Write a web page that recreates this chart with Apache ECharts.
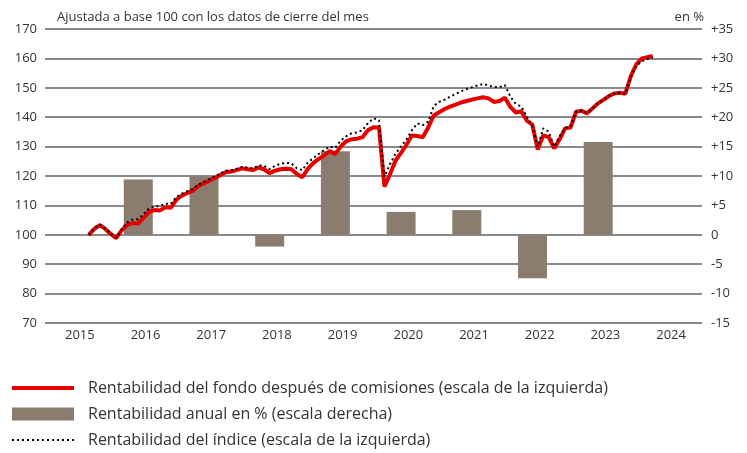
<!DOCTYPE html>
<html>
<head>
<meta charset="utf-8">
<script src="https://cdn.jsdelivr.net/npm/echarts@6/dist/echarts.min.js"></script>
<style>
  html, body { margin: 0; padding: 0; background: #ffffff; }
  #chart { width: 747px; height: 453px; }
</style>
</head>
<body>
<div id="chart"></div>
<script>
// Month-end observations from Aug 2015 to Mar 2024
var startYear = 2015;
var startMonth = 8; // August (month-end)

var fundValues = [
  100.0, 102.0, 103.3, 102.0, 100.3, 98.9, 101.5, 103.4, 104.0, 103.8,
  105.8, 107.8, 108.4, 108.3, 109.4, 109.2, 112.0, 113.3, 114.2, 115.0,
  116.6, 117.5, 118.4, 119.3, 120.3, 121.3, 121.5, 122.0, 122.6, 122.3,
  122.0, 122.9, 122.3, 121.0, 121.8, 122.3, 122.5, 122.3, 120.7, 119.6,
  122.4, 124.4, 125.8, 127.0, 128.5, 127.5, 130.0, 131.8, 132.5, 132.7,
  133.2, 135.6, 136.6, 136.5, 116.4, 120.5, 125.2, 127.8, 130.5, 133.8,
  133.6, 133.2, 136.5, 140.6, 141.7, 142.8, 143.6, 144.3, 145.0, 145.5,
  146.0, 146.4, 146.8, 146.4, 145.2, 145.5, 146.6, 143.5, 141.6, 142.0,
  138.8, 137.5, 129.0, 133.8, 133.2, 129.4, 132.5, 136.2, 136.5, 141.9,
  142.2, 141.3, 143.0, 144.7, 145.9, 147.2, 148.1, 148.3, 148.0, 154.0,
  158.0, 160.0, 160.4, 160.8
];

var indexValues = [
  100.0, 102.3, 103.5, 102.2, 100.5, 99.0, 101.8, 104.2, 105.2, 105.3,
  107.0, 109.0, 109.6, 109.8, 110.6, 110.5, 112.8, 114.0, 114.8, 115.6,
  117.0, 118.0, 118.9, 119.8, 120.8, 121.8, 122.0, 122.5, 123.1, 122.9,
  122.6, 123.6, 123.5, 122.3, 123.5, 124.1, 124.5, 124.3, 122.6, 122.0,
  124.6, 126.0, 127.5, 128.8, 130.0, 129.6, 132.0, 133.5, 134.5, 134.8,
  135.6, 138.0, 139.6, 139.0, 119.8, 124.0, 127.5, 130.0, 132.4, 135.5,
  137.9, 137.3, 138.5, 143.8, 145.2, 146.0, 147.0, 147.9, 148.8, 149.6,
  150.2, 150.8, 151.3, 150.8, 150.3, 150.2, 150.9, 147.0, 144.5, 143.6,
  140.2, 137.0, 130.0, 136.2, 135.1, 130.0, 133.5, 136.2, 137.0, 142.0,
  142.2, 141.5, 143.0, 144.7, 145.9, 147.2, 148.0, 148.3, 148.0, 153.5,
  157.5, 159.0, 159.8, 160.3
];

var barYears = [2016, 2017, 2018, 2019, 2020, 2021, 2022, 2023];
var barValues = [9.4, 9.9, -2.0, 14.2, 3.9, 4.2, -7.4, 15.8];

var yearLabels = [2015, 2016, 2017, 2018, 2019, 2020, 2021, 2022, 2023, 2024];

var seriesNames = [
  'Rentabilidad del fondo después de comisiones (escala de la izquierda)',
  'Rentabilidad anual en % (escala derecha)',
  'Rentabilidad del índice (escala de la izquierda)'
];

// time coordinate in fractional years (month-end)
function monthTime(i) {
  return startYear + (startMonth + i) / 12;
}
var fundData = fundValues.map(function (v, i) { return [monthTime(i), v]; });
var indexData = indexValues.map(function (v, i) { return [monthTime(i), v]; });
var barOffset = 0.42;
var barData = barValues.map(function (v, i) { return [barYears[i] + barOffset, v]; });
var labelOffset = 0.53;

var FONT = 'Open Sans';
var TXT = '#333333';
var GRID = '#8a8a8a';

var chart = echarts.init(document.getElementById('chart'), null, { renderer: 'canvas' });
chart.setOption({
  animation: false,
  backgroundColor: '#ffffff',
  textStyle: { fontFamily: FONT },
  title: [
    { text: 'Ajustada a base 100 con los datos de cierre del mes', left: 52, top: 6,
      textStyle: { fontFamily: FONT, fontSize: 13, fontWeight: 'normal', color: TXT } },
    { text: 'en %', right: 38, top: 6,
      textStyle: { fontFamily: FONT, fontSize: 13, fontWeight: 'normal', color: TXT } }
  ],
  grid: { left: 45, right: 45, top: 29, bottom: 130, containLabel: false },
  xAxis: {
    type: 'value', min: 2015, max: 2025,
    axisLine: { show: false }, axisTick: { show: false }, splitLine: { show: false },
    axisLabel: {
      customValues: yearLabels.map(function (y) { return y + labelOffset; }),
      formatter: function (v) { return String(Math.floor(v)); },
      color: TXT, fontFamily: FONT, fontSize: 13, margin: 6
    }
  },
  yAxis: [
    { type: 'value', min: 70, max: 170, interval: 10, position: 'left',
      axisLine: { show: false }, axisTick: { show: false },
      splitLine: { show: true, lineStyle: { color: GRID, width: 2 } },
      axisLabel: { color: TXT, fontFamily: FONT, fontSize: 13, margin: 8 } },
    { type: 'value', min: -15, max: 35, interval: 5, position: 'right',
      axisLine: { show: false }, axisTick: { show: false }, splitLine: { show: false },
      axisLabel: { color: TXT, fontFamily: FONT, fontSize: 13, margin: 9, align: 'left',
        formatter: function (v) { return v > 0 ? '+' + v : String(v); } } }
  ],
  legend: {
    orient: 'vertical', left: 10, top: 380, padding: 0, height: 73,
    itemWidth: 62, itemHeight: 13, itemGap: 10,
    selectedMode: false,
    textStyle: { fontFamily: FONT, fontSize: 16, color: TXT, padding: [0, 0, 0, 9] },
    lineStyle: { width: 'inherit' },
    data: [
      { name: seriesNames[0], itemStyle: { opacity: 0 } },
      { name: seriesNames[1], icon: 'rect' },
      { name: seriesNames[2], itemStyle: { opacity: 0 } }
    ]
  },
  series: [
    { name: seriesNames[1], type: 'bar', yAxisIndex: 1, data: barData, barWidth: 29,
      itemStyle: { color: '#8a7d6f' }, z: 1 },
    { name: seriesNames[0], type: 'line', data: fundData, symbol: 'none', showSymbol: false,
      lineStyle: { color: '#e60000', width: 4 }, itemStyle: { color: '#e60000' }, z: 3 },
    { name: seriesNames[2], type: 'line', data: indexData, symbol: 'none', showSymbol: false,
      lineStyle: { color: '#000000', width: 2, type: [2, 3] }, itemStyle: { color: '#000000' }, z: 4 }
  ]
});
</script>
</body>
</html>
